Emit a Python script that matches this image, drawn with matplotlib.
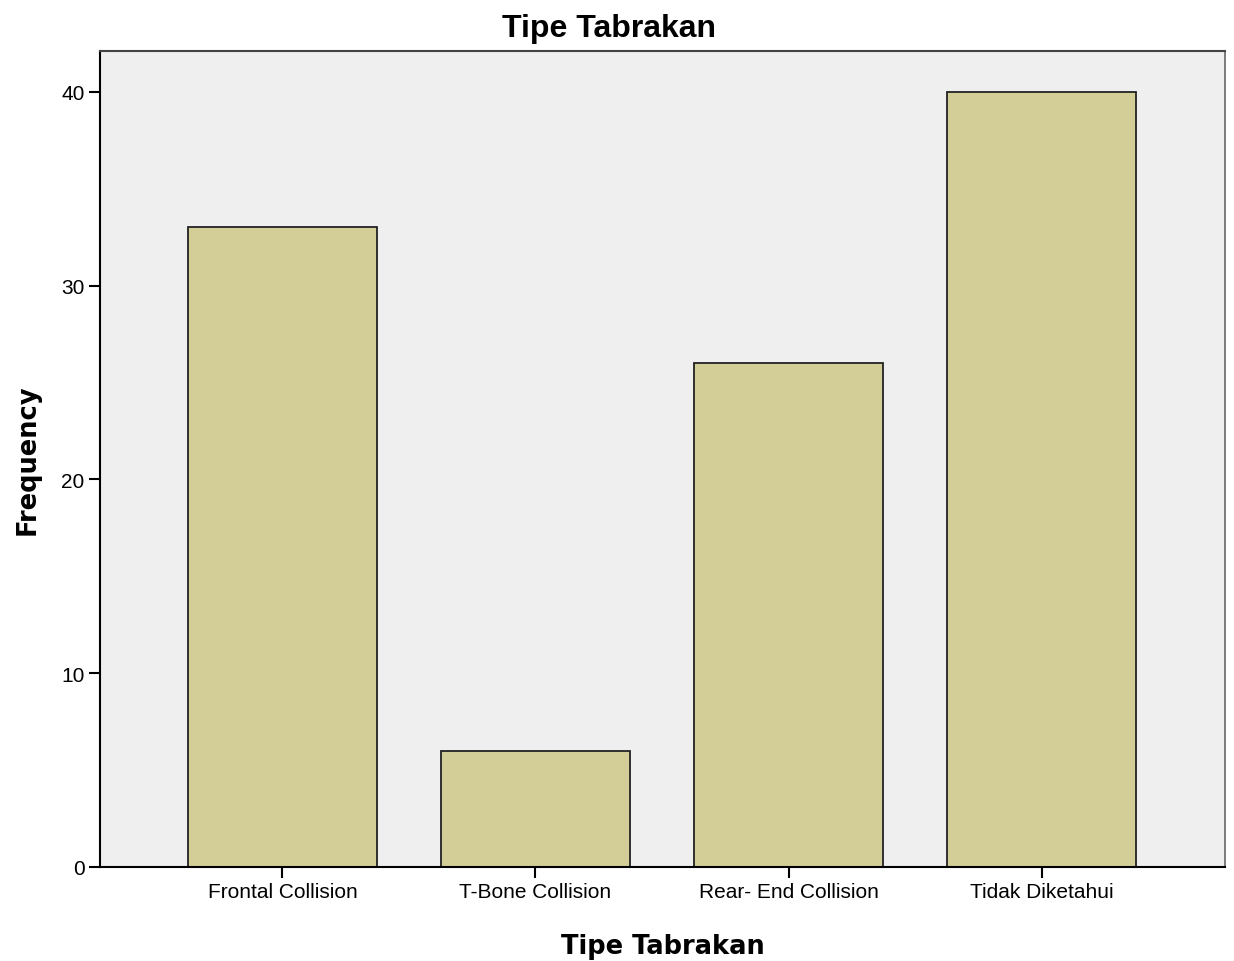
import matplotlib
matplotlib.use("Agg")
import matplotlib.pyplot as plt

categories = ["Frontal Collision", "T-Bone Collision", "Rear- End Collision", "Tidak Diketahui"]
frequencies = [33, 6, 26, 40]
yticks = [0, 10, 20, 30, 40]

W, H = 1234, 962
fig = plt.figure(figsize=(W / 100, H / 100), dpi=100)
ax = fig.add_axes([100 / W, (H - 868) / H, 1125 / W, 816 / H])
ax.set_facecolor("#efefef")
x = range(len(categories))
ax.bar(x, frequencies, width=0.747, color="#d3ce97", edgecolor="#222222", linewidth=1.3, zorder=2)
ax.set_xlim(-0.721, 3.725)
ax.set_ylim(0, 42.1)
ax.set_yticks(yticks)
ax.set_xticks(list(x))
ax.set_xticklabels(categories, family="Liberation Sans", fontsize=15)
for lab in ax.get_yticklabels():
    lab.set_family("Liberation Sans")
    lab.set_fontsize(15)
ax.tick_params(axis="both", direction="out", length=8, width=1.5, color="black", pad=3)
for side in ["left", "bottom"]:
    ax.spines[side].set_linewidth(1.5)
    ax.spines[side].set_color("black")
ax.spines["top"].set_color("#444444")
ax.spines["top"].set_linewidth(1.5)
ax.spines["right"].set_color("#666666")
ax.spines["right"].set_linewidth(1.2)

fig.text(609 / W, 1 - 37 / H, "Tipe Tabrakan", fontsize=23, fontweight="bold",
         family="Liberation Sans", ha="center", va="baseline")
fig.text(663 / W, (H - 954) / H, "Tipe Tabrakan", fontsize=18.5, fontweight="bold",
         family="DejaVu Sans", ha="center", va="baseline")
fig.text(28 / W, 1 - 460 / H, "Frequency", fontsize=18.5, fontweight="bold",
         family="DejaVu Sans", ha="center", va="center", rotation=90)
fig.savefig("out.png", dpi=100)
